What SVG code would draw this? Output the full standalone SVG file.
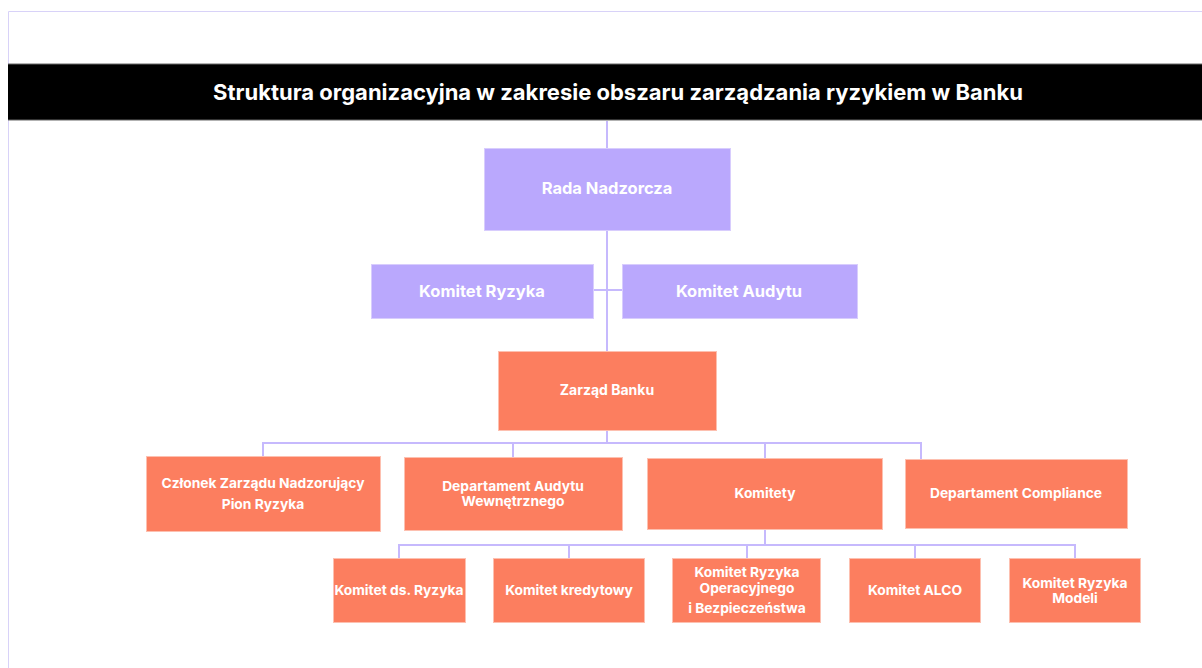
<svg xmlns="http://www.w3.org/2000/svg" width="1202" height="668" viewBox="0 0 1202 668">
<style>
text{font-family:Inter,"Noto Sans","Liberation Sans",sans-serif;font-weight:700;fill:#ffffff;text-anchor:middle}
.p{fill:#baa8fd;stroke:#d8cdfd;stroke-width:1}
.o{fill:#fc7e5f;stroke:#fdc0b0;stroke-width:1}
.c{fill:none;stroke:#c6b9fd;stroke-width:2}
.t16{font-size:16.5px}.t14{font-size:14px}.t13{font-size:13.8px}
</style>
<rect x="0" y="0" width="1202" height="668" fill="#ffffff"/>
<path d="M8.5 668 V11.5 H1202" fill="none" stroke="#d8d2f8" stroke-width="1"/>
<g id="title">
<rect x="8" y="64" width="1194" height="56" fill="#000000"/>
<line x1="8" y1="64" x2="1202" y2="64" stroke="#666" stroke-width="1"/>
<line x1="8" y1="120" x2="1202" y2="120" stroke="#666" stroke-width="1"/>
<text x="618" y="99.5" style="font-size:22px">Struktura organizacyjna w zakresie obszaru zarządzania ryzykiem w Banku</text>
</g>
<g id="connectors">
<path class="c" d="M607 121 V351 M593 290 H622"/>
<path class="c" d="M607 430 V444 M263 456 V443 H921 V459 M513 443 V457 M765 443 V458"/>
<path class="c" d="M765 529 V545 M399 558 V545 H1075 V558 M569 545 V558 M747 545 V558 M915 545 V558"/>
</g>
<g id="rada"><rect class="p" x="484.5" y="148.5" width="246" height="82"/><text class="t16" x="607" y="194">Rada Nadzorcza</text></g>
<g id="komitet-ryzyka"><rect class="p" x="371.5" y="264.5" width="222" height="54"/><text class="t16" x="482" y="297">Komitet Ryzyka</text></g>
<g id="komitet-audytu"><rect class="p" x="622.5" y="264.5" width="235" height="54"/><text class="t16" x="739" y="297">Komitet Audytu</text></g>
<g id="zarzad"><rect class="o" x="498.5" y="351.5" width="218" height="79"/><text class="t14" x="607" y="395">Zarząd Banku</text></g>
<g id="czlonek"><rect class="o" x="146.5" y="456.5" width="234" height="75"/><text class="t13" x="263" y="488">Członek Zarządu Nadzorujący</text><text class="t13" x="263" y="509">Pion Ryzyka</text></g>
<g id="dep-audytu"><rect class="o" x="404.5" y="457.5" width="218" height="73"/><text class="t13" x="513" y="491">Departament Audytu</text><text class="t13" x="513" y="506">Wewnętrznego</text></g>
<g id="komitety"><rect class="o" x="647.5" y="458.5" width="235" height="71"/><text class="t13" x="765" y="498">Komitety</text></g>
<g id="compliance"><rect class="o" x="905.5" y="459.5" width="222" height="69"/><text class="t13" x="1016" y="498">Departament Compliance</text></g>
<g id="k-ds-ryzyka"><rect class="o" x="333.5" y="558.5" width="132" height="64"/><text class="t13" x="399" y="595">Komitet ds. Ryzyka</text></g>
<g id="k-kredytowy"><rect class="o" x="493.5" y="558.5" width="151" height="64"/><text class="t13" x="569" y="595">Komitet kredytowy</text></g>
<g id="k-operacyjny"><rect class="o" x="672.5" y="558.5" width="148" height="64"/><text class="t13" x="747" y="577">Komitet Ryzyka</text><text class="t13" x="747" y="593">Operacyjnego</text><text class="t13" x="747" y="613">i Bezpieczeństwa</text></g>
<g id="k-alco"><rect class="o" x="849.5" y="558.5" width="131" height="64"/><text class="t13" x="915" y="595">Komitet ALCO</text></g>
<g id="k-modeli"><rect class="o" x="1009.5" y="558.5" width="131" height="64"/><text class="t13" x="1075" y="588">Komitet Ryzyka</text><text class="t13" x="1075" y="603">Modeli</text></g>
</svg>
